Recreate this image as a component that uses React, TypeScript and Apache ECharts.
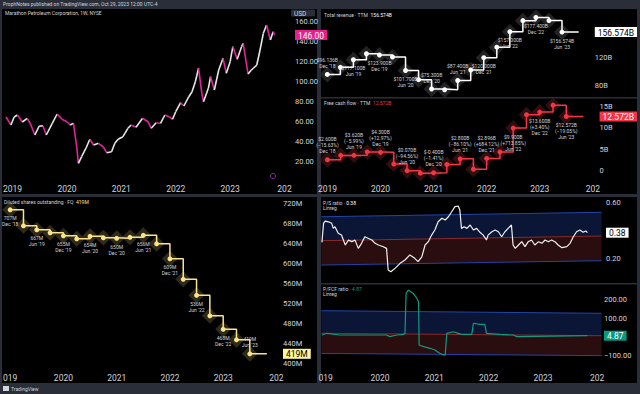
import React, { useEffect, useRef } from 'react';
import * as echarts from 'echarts';

// ---------- DATA ----------
// Weekly-ish closes of MPC (decimal year, USD)
const priceT = [2018.88, 2018.97, 2019.03, 2019.09, 2019.18, 2019.27, 2019.33, 2019.41, 2019.49, 2019.56, 2019.62, 2019.73, 2019.82, 2019.91, 2020.0, 2020.06, 2020.12, 2020.18, 2020.21, 2020.27, 2020.36, 2020.42, 2020.49, 2020.58, 2020.67, 2020.73, 2020.82, 2020.88, 2020.94, 2021.03, 2021.12, 2021.18, 2021.27, 2021.39, 2021.49, 2021.55, 2021.64, 2021.72, 2021.8, 2021.88, 2021.94, 2022.0, 2022.09, 2022.15, 2022.24, 2022.3, 2022.36, 2022.42, 2022.48, 2022.51, 2022.6, 2022.64, 2022.71, 2022.79, 2022.87, 2022.93, 2023.0, 2023.05, 2023.13, 2023.21, 2023.24, 2023.33, 2023.39, 2023.49, 2023.55, 2023.61, 2023.67, 2023.74, 2023.79, 2023.82];
const priceV = [64, 56, 64, 66, 59, 62.7, 57, 46, 55, 55, 46, 57.7, 67, 61.7, 59.3, 56, 57.7, 34, 17.7, 24.3, 34, 41.7, 36, 37.7, 34, 28.3, 29.3, 37.7, 41.7, 44.3, 52.7, 56, 53.7, 62.7, 59.3, 52.7, 58.3, 57.7, 66, 64.3, 61.7, 69.3, 78.3, 75, 84.3, 89.3, 99.3, 112.7, 87.7, 79.3, 92.7, 104.3, 91, 111, 122.7, 107.7, 119.3, 134.3, 121.7, 134.3, 137.7, 107, 111, 116, 131, 147.7, 156, 141, 149.3, 146];
const priceTicks = [20, 40, 60, 80, 100, 120, 140, 160];
const lastPrice = 146;

// Quarterly fundamentals
const qNames = ["Dec '18", "Mar '19", "Jun '19", "Sep '19", "Dec '19", "Mar '20", "Jun '20", "Sep '20", "Dec '20", "Mar '21", "Jun '21", "Sep '21", "Dec '21", "Mar '22", "Jun '22", "Sep '22", "Dec '22", "Mar '23", "Jun '23"];
const qT = [2019.0, 2019.25, 2019.5, 2019.75, 2020.0, 2020.25, 2020.5, 2020.75, 2021.0, 2021.25, 2021.5, 2021.75, 2022.0, 2022.25, 2022.5, 2022.75, 2023.0, 2023.25, 2023.5];
const nowT = 2023.82;
const revenueB = [96.136, 106.2, 117.1, 125.7, 123.9, 121.0, 101.7, 88.6, 75.3, 74.3, 87.4, 102.4, 120.0, 135.0, 157.0, 172.9, 177.4, 173.0, 156.574];
const revenueTicks = [80, 120];
const fcfB = [2.6, 3.6, 3.62, 4.4, 4.3, 1.6, 0.07, -0.5, -0.4, 1.5, 2.8, 0.4, 2.896, 4.4, 9.9, 13.0, 13.6, 15.2, 12.572];
const fcfPct = ['(−15.63%)', '(−5.99%)', '(+12.97%)', '(−94.56%)', '(−1.41%)', '(−86.10%)', '(+684.12%)', '(+713.85%)', '(+3.40%)', '(−19.05%)'];
const fcfTicks = [0, 5, 10, 15];
const sharesM = [707, 675, 667, 661, 655, 649, 654, 651, 650, 652, 656, 639, 609, 568, 536, 495, 468, 447, 419];
const sharesTicks = [400, 440, 480, 520, 560, 600, 640, 680, 720];

// Ratios
const psT = [2018.93, 2018.96, 2018.99, 2019.05, 2019.11, 2019.14, 2019.17, 2019.23, 2019.29, 2019.36, 2019.42, 2019.48, 2019.54, 2019.6, 2019.66, 2019.72, 2019.78, 2019.85, 2019.91, 2019.97, 2020.06, 2020.12, 2020.15, 2020.2, 2020.28, 2020.37, 2020.46, 2020.55, 2020.64, 2020.7, 2020.77, 2020.83, 2020.89, 2020.95, 2021.01, 2021.07, 2021.14, 2021.2, 2021.26, 2021.32, 2021.38, 2021.44, 2021.47, 2021.5, 2021.55, 2021.6, 2021.66, 2021.72, 2021.78, 2021.84, 2021.9, 2021.96, 2021.99, 2022.06, 2022.12, 2022.18, 2022.24, 2022.3, 2022.36, 2022.42, 2022.45, 2022.49, 2022.55, 2022.61, 2022.67, 2022.73, 2022.79, 2022.85, 2022.92, 2022.98, 2023.04, 2023.1, 2023.16, 2023.22, 2023.28, 2023.35, 2023.44, 2023.5, 2023.56, 2023.62, 2023.68, 2023.74, 2023.79, 2023.82];
const psV = [0.314, 0.45, 0.466, 0.461, 0.45, 0.414, 0.426, 0.379, 0.366, 0.295, 0.33, 0.319, 0.33, 0.271, 0.307, 0.354, 0.343, 0.331, 0.307, 0.295, 0.283, 0.271, 0.116, 0.104, 0.13, 0.164, 0.188, 0.224, 0.2, 0.176, 0.211, 0.295, 0.319, 0.366, 0.402, 0.461, 0.486, 0.474, 0.497, 0.533, 0.569, 0.574, 0.545, 0.414, 0.426, 0.414, 0.438, 0.402, 0.414, 0.386, 0.366, 0.331, 0.366, 0.39, 0.402, 0.39, 0.354, 0.39, 0.414, 0.438, 0.295, 0.271, 0.295, 0.319, 0.283, 0.319, 0.331, 0.295, 0.319, 0.307, 0.331, 0.319, 0.331, 0.319, 0.295, 0.276, 0.283, 0.307, 0.354, 0.39, 0.402, 0.386, 0.395, 0.383];
const psTicks = [0.2, 0.6];
const psLast = 0.383;
const psChannel = [2018.92, 2024.08, 0.497, 0.529, 0.326, 0.359, 0.152, 0.183];

const pfcfT = [2018.93, 2019.02, 2019.26, 2019.63, 2020.12, 2020.18, 2020.31, 2020.43, 2020.46, 2020.48, 2020.52, 2020.61, 2020.68, 2020.71, 2020.72, 2020.8, 2020.92, 2021.01, 2021.1, 2021.17, 2021.2, 2021.23, 2021.35, 2021.44, 2021.5, 2021.69, 2021.72, 2021.84, 2021.93, 2021.96, 2022.21, 2022.45, 2022.52, 2023.19, 2023.82];
const pfcfV = [8.6, 17.8, 8.6, 8.6, 8.6, 0, 8.6, 12, 17.8, 233, 251, 233, 206, 188, -45, -54, -63, -72, -90, -99, -99, 17.8, 26.4, 17.8, 12, 12, 72, 66, 66, 17.8, 12, 8.6, 0, 3, 4.87];
const pfcfTicks = [-100, 100, 200];
const pfcfChannel = [2018.92, 2024.08, 139.6, 125.6, 17.8, 4.9, -90.6, -102.6];

const yearTicks = [2019, 2020, 2021, 2022, 2023, 2024];

// ---------- STYLE ----------
const TXT = '#d1d4dc';
const FONT = 'Roboto, "Noto Sans", sans-serif';

function xAxis(gridIndex: number, min: number, max: number, show: boolean, cutFirst: boolean) {
  return {
    type: 'value', gridIndex, min, max,
    axisLine: { show: false }, axisTick: { show: false }, splitLine: { show: false },
    axisLabel: {
      show, customValues: yearTicks, color: TXT, fontSize: 8.5, margin: 3, fontFamily: FONT,
      formatter: (v: number) => {
        const y = Math.round(v);
        if (y === 2024) return '202';
        if (y === 2019 && cutFirst) return '019';
        return String(y);
      },
    },
  };
}

function yAxis(gridIndex: number, min: number, max: number, values: number[], fmt: (v: number) => string, rich: any, margin: number) {
  return {
    type: 'value', gridIndex, position: 'right', min, max,
    axisLine: { show: false }, axisTick: { show: false }, splitLine: { show: false },
    axisLabel: { customValues: values, formatter: fmt, color: TXT, fontSize: 7.5, margin, rich, fontFamily: FONT },
  };
}

const box = (bg: string, fg: string) => ({ backgroundColor: bg, color: fg, padding: [1, 3, 0, 3], fontSize: 8.5, fontFamily: FONT });

function stepSeries(xi: number, yi: number, vals: number[], color: string, halo: string, text: (i: number) => string, pos: string[]) {
  const data: any[] = qT.map((t, i) => ({
    value: [t, vals[i]],
    label: i % 2 === 0 ? { show: true, position: pos[i / 2], formatter: text(i) } : { show: false },
  }));
  data.push({ value: [nowT, vals[vals.length - 1]], symbol: 'none', label: { show: false } });
  return [
    {
      type: 'scatter', xAxisIndex: xi, yAxisIndex: yi, silent: true, z: 1,
      symbol: 'diamond', symbolSize: 16, itemStyle: { color: halo },
      data: qT.map((t, i) => [t, vals[i]]),
    },
    {
      type: 'line', xAxisIndex: xi, yAxisIndex: yi, step: 'end', z: 3,
      symbol: 'circle', symbolSize: 5, showSymbol: true,
      lineStyle: { color, width: 1.5 }, itemStyle: { color },
      label: { fontSize: 5, lineHeight: 6, color: TXT, distance: 3, fontFamily: FONT },
      data,
    },
  ];
}

const channelRender = (fillTop: string, fillBot: string, lineOuter: string, lineMid: string) => (params: any, api: any) => {
  const t0 = api.value(0), t1 = api.value(1);
  const U0 = api.coord([t0, api.value(2)]), U1 = api.coord([t1, api.value(3)]);
  const M0 = api.coord([t0, api.value(4)]), M1 = api.coord([t1, api.value(5)]);
  const L0 = api.coord([t0, api.value(6)]), L1 = api.coord([t1, api.value(7)]);
  return {
    type: 'group',
    children: [
      { type: 'polygon', shape: { points: [U0, U1, M1, M0] }, style: { fill: fillTop } },
      { type: 'polygon', shape: { points: [M0, M1, L1, L0] }, style: { fill: fillBot } },
      { type: 'line', shape: { x1: U0[0], y1: U0[1], x2: U1[0], y2: U1[1] }, style: { stroke: lineOuter, lineWidth: 1 } },
      { type: 'line', shape: { x1: M0[0], y1: M0[1], x2: M1[0], y2: M1[1] }, style: { stroke: lineMid, lineWidth: 1 } },
      { type: 'line', shape: { x1: L0[0], y1: L0[1], x2: L1[0], y2: L1[1] }, style: { stroke: lineOuter, lineWidth: 1 } },
    ],
  };
};

function legend(x: number, y: number, main: string, val: string, valColor: string) {
  return {
    type: 'text', x, y, z: 100,
    style: {
      text: `{a|${main}}{b|${val}}`,
      rich: {
        a: { fontSize: 5, fill: TXT, fontFamily: FONT },
        b: { fontSize: 5, fill: valColor, fontFamily: FONT },
      },
    },
  };
}
function small(x: number, y: number, text: string, color = TXT, size = 5) {
  return { type: 'text', x, y, z: 100, style: { text, fill: color, fontSize: size, fontFamily: FONT } };
}

export default function App() {
  const ref = useRef<HTMLDivElement>(null);
  useEffect(() => {
    const chart = echarts.init(ref.current!, null, { renderer: 'svg' });
    const priceSegs = priceT.slice(1).map((t, i) => [priceT[i], priceV[i], t, priceV[i + 1]]);
    const revText = (i: number) => `$${revenueB[i].toFixed(3)}B\n${qNames[i]}`;
    const fcfText = (i: number) => `$${fcfB[i].toFixed(3)}B\n${fcfPct[i / 2]}\n${qNames[i]}`;
    const shText = (i: number) => `${sharesM[i]}M\n${qNames[i]}`;

    const option: any = {
      animation: false,
      backgroundColor: '#2a2e39',
      textStyle: { fontFamily: FONT },
      grid: [
        { left: 3, top: 10, width: 285, height: 171 },
        { left: 321, top: 10, width: 276, height: 87 },
        { left: 321, top: 98, width: 276, height: 83 },
        { left: 2, top: 197, width: 278, height: 173 },
        { left: 321, top: 198, width: 281, height: 85 },
        { left: 321, top: 284, width: 281, height: 86 },
      ],
      xAxis: [
        xAxis(0, 2018.854, 2024.064, true, false),
        xAxis(1, 2018.879, 2024.033, false, false),
        xAxis(2, 2018.879, 2024.033, true, false),
        xAxis(3, 2018.950, 2024.067, true, true),
        xAxis(4, 2018.913, 2024.088, false, true),
        xAxis(5, 2018.913, 2024.088, true, true),
      ],
      yAxis: [
        yAxis(0, 0, 171, [...priceTicks, lastPrice], (v) => (Math.abs(v - lastPrice) < 1e-6 ? `{box|${lastPrice.toFixed(2)}}` : v.toFixed(2)), { box: box('#e91e8c', '#ffffff') }, 7),
        yAxis(1, 63.9, 188.1, [...revenueTicks, revenueB[revenueB.length - 1]], (v) => (v === revenueB[revenueB.length - 1] ? `{box|${v.toFixed(3)}B}` : `${v}B`), { box: box('#ffffff', '#000000') }, 5),
        yAxis(2, -2.31, 16.85, [...fcfTicks, fcfB[fcfB.length - 1]], (v) => (v === fcfB[fcfB.length - 1] ? `{box|${v.toFixed(3)}B}` : v === 0 ? '0' : `${v}B`), { box: box('#f23645', '#ffffff') }, 5),
        yAxis(3, 386.6, 732.6, [...sharesTicks, sharesM[sharesM.length - 1]], (v) => (v === sharesM[sharesM.length - 1] ? `{box|${v}M}` : `${v}M`), { box: box('#fff59d', '#000000') }, 3),
        yAxis(4, 0.0236, 0.631, [...psTicks, psLast], (v) => (v === psLast ? `{box|${v.toFixed(2)}}` : v.toFixed(2)), { box: box('#ffffff', '#000000') }, 4),
        yAxis(5, -180, 283.6, [...pfcfTicks, pfcfV[pfcfV.length - 1]], (v) => (v === pfcfV[pfcfV.length - 1] ? `{box|${v.toFixed(2)}}` : (v < 0 ? '−' : '') + Math.abs(v).toFixed(2)), { box: box('#089981', '#ffffff') }, 2),
      ],
      series: [
        {
          type: 'custom', xAxisIndex: 0, yAxisIndex: 0, data: priceSegs, encode: { x: [0, 2], y: [1, 3] }, z: 3,
          renderItem: (params: any, api: any) => {
            const p0 = api.coord([api.value(0), api.value(1)]);
            const p1 = api.coord([api.value(2), api.value(3)]);
            const up = api.value(3) >= api.value(1);
            return { type: 'line', shape: { x1: p0[0], y1: p0[1], x2: p1[0], y2: p1[1] }, style: { stroke: up ? '#e6e6e6' : '#e0249a', lineWidth: 1.6 } };
          },
        },
        ...stepSeries(1, 1, revenueB, '#ffffff', '#2c2c2c', revText, ['top', 'bottom', 'bottom', 'bottom', 'top', 'top', 'bottom', 'bottom', 'bottom', 'bottom']),
        ...stepSeries(2, 2, fcfB, '#f23645', '#3d1214', fcfText, ['top', 'top', 'top', 'top', 'top', 'top', 'top', 'bottom', 'bottom', 'bottom']),
        ...stepSeries(3, 3, sharesM, '#fbe38a', '#3a3622', shText, ['bottom', 'bottom', 'bottom', 'bottom', 'bottom', 'bottom', 'bottom', 'bottom', 'bottom', 'top']),
        {
          type: 'custom', xAxisIndex: 4, yAxisIndex: 4, data: [psChannel], encode: { x: [0, 1], y: [2, 3, 4, 5, 6, 7] }, z: 1, silent: true,
          renderItem: channelRender('#0b1637', '#2a0d0f', '#2244a8', '#8c2a2a'),
        },
        {
          type: 'line', xAxisIndex: 4, yAxisIndex: 4, showSymbol: false, z: 3,
          lineStyle: { color: '#f0f0f0', width: 1.2 }, data: psT.map((t, i) => [t, psV[i]]),
        },
        {
          type: 'custom', xAxisIndex: 5, yAxisIndex: 5, data: [pfcfChannel], encode: { x: [0, 1], y: [2, 3, 4, 5, 6, 7] }, z: 1, silent: true,
          renderItem: channelRender('#0b1637', '#2a0d0f', '#2244a8', '#8c2a2a'),
        },
        {
          type: 'line', xAxisIndex: 5, yAxisIndex: 5, showSymbol: false, z: 3,
          lineStyle: { color: '#0f9b7e', width: 1.2 }, data: pfcfT.map((t, i) => [t, pfcfV[i]]),
        },
      ],
      graphic: [
        { type: 'rect', z: -10, shape: { x: 2, y: 9, width: 315, height: 185 }, style: { fill: '#000000' } },
        { type: 'rect', z: -10, shape: { x: 321, y: 9, width: 316, height: 185 }, style: { fill: '#000000' } },
        { type: 'rect', z: -10, shape: { x: 2, y: 197, width: 315, height: 186 }, style: { fill: '#000000' } },
        { type: 'rect', z: -10, shape: { x: 321, y: 197, width: 316, height: 186 }, style: { fill: '#000000' } },
        { type: 'rect', z: 50, shape: { x: 321, y: 97, width: 316, height: 1.5 }, style: { fill: '#2a2e39' } },
        { type: 'rect', z: 50, shape: { x: 321, y: 283, width: 316, height: 1.5 }, style: { fill: '#2a2e39' } },
        small(3, 1.5, 'ProphNotes published on TradingView.com, Oct 29, 2023 12:00 UTC-4', TXT, 5),
        small(5, 10.5, 'Marathon Petroleum Corporation, 1W, NYSE', TXT, 5),
        { type: 'rect', z: 60, shape: { x: 291, y: 9.5, width: 24, height: 7, r: 1 }, style: { fill: '#2a2e39' } },
        small(294, 10, 'USD', TXT, 6.5),
        { type: 'circle', z: 60, shape: { cx: 273, cy: 176, r: 2.5 }, style: { fill: 'none', stroke: '#9c27b0', lineWidth: 1 } },
        legend(324, 12.5, 'Total revenue · TTM  ', '156.574B', '#ffffff'),
        legend(324, 100.5, 'Free cash flow · TTM  ', '12.572B', '#f23645'),
        legend(4, 199.5, 'Diluted shares outstanding · FQ  ', '419M', '#fbe38a'),
        legend(323, 200, 'P/S ratio · ', '0.38', '#ffffff'),
        small(323, 205.5, 'Linreg'),
        legend(323, 286, 'P/FCF ratio · ', '4.87', '#0f9b7e'),
        small(323, 291.5, 'Linreg'),
        { type: 'rect', z: 60, shape: { x: 3, y: 386, width: 6, height: 5 }, style: { fill: '#d1d4dc' } },
        small(11, 386, 'TradingView', TXT, 5),
      ],
    };
    chart.setOption(option);
    return () => chart.dispose();
  }, []);
  return <div ref={ref} style={{ position: 'fixed', left: 0, top: 0, width: 640, height: 394 }} />;
}
